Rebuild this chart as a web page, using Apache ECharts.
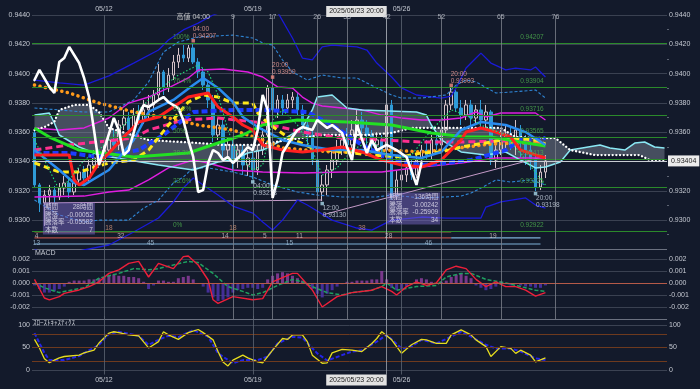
<!DOCTYPE html>
<html><head><meta charset="utf-8">
<script src="https://cdn.jsdelivr.net/npm/echarts/dist/echarts.min.js"></script>
<style>html,body{margin:0;padding:0;background:#131a2b;}#c{width:700px;height:389px;}</style>
</head><body><div id="c"></div>
<script>
// ---------- categories (4h bars, JST) ----------
const dayList = [
 ['05/08','mid'],['05/09','mid'],['05/10','sat'],
 ['05/12','mon'],['05/13','mid'],['05/14','mid'],['05/15','mid'],['05/16','mid'],['05/17','sat'],
 ['05/19','mon'],['05/20','mid'],['05/21','mid'],['05/22','mid'],['05/23','mid'],['05/24','sat'],
 ['05/26','mon'],['05/27','mid'],['05/28','mid'],['05/29','mid'],['05/30','mid'],['05/31','sat'],
 ['06/02','mon'],['06/03','mid'],['06/04','mid'],['06/05','mid'],['06/06','mid']
];
const hoursByType = {mon:['08:00','12:00','16:00','20:00'], mid:['00:00','04:00','08:00','12:00','16:00','20:00'], sat:['00:00','04:00']};
const weekLabels = ['05/12','05/19','05/26'];
const categories = [];
dayList.forEach(([d,t]) => hoursByType[t].forEach(h => categories.push('2025/' + d + ' ' + h)));
categories.length = 128;

// ---------- candles [open, close, low, high] ----------
const ohlc = [
[0.93595,0.93240,0.93219,0.93629],[0.93240,0.93117,0.93055,0.93253],[0.93117,0.93171,0.92960,0.93205],
[0.93171,0.93205,0.93103,0.93240],[0.93205,0.93158,0.93117,0.93233],[0.93158,0.93219,0.93137,0.93253],
[0.93219,0.93253,0.93171,0.93301],[0.93253,0.93192,0.93151,0.93287],[0.93192,0.93274,0.93171,0.93328],
[0.93274,0.93328,0.93233,0.93356],[0.93328,0.93287,0.93240,0.93369],[0.93287,0.93376,0.93260,0.93410],
[0.93376,0.93424,0.93342,0.93478],[0.93424,0.93397,0.93356,0.93465],[0.93397,0.93478,0.93369,0.93513],
[0.93478,0.93547,0.93444,0.93601],[0.93547,0.93513,0.93478,0.93615],[0.93513,0.93649,0.93478,0.93683],
[0.93649,0.93697,0.93615,0.93752],[0.93697,0.93615,0.93581,0.93738],[0.93615,0.93717,0.93581,0.93765],
[0.93717,0.93683,0.93649,0.93786],[0.93683,0.93752,0.93656,0.93820],[0.93752,0.93786,0.93697,0.93854],
[0.93786,0.93854,0.93738,0.93888],[0.93854,0.94011,0.93820,0.94065],[0.94011,0.93902,0.93854,0.94025],
[0.93902,0.93990,0.93874,0.94038],[0.93990,0.94079,0.93956,0.94127],[0.94079,0.94127,0.94038,0.94175],
[0.94127,0.94106,0.94079,0.94195],[0.94106,0.94175,0.94079,0.94195],[0.94175,0.94079,0.94065,0.94207],
[0.94079,0.94011,0.93970,0.94106],[0.94011,0.93922,0.93888,0.94038],[0.93922,0.93820,0.93765,0.93956],
[0.93820,0.93581,0.93533,0.93854],[0.93581,0.93649,0.93547,0.93697],[0.93649,0.93478,0.93424,0.93683],
[0.93478,0.93513,0.93410,0.93560],[0.93513,0.93410,0.93328,0.93547],[0.93410,0.93478,0.93356,0.93513],
[0.93478,0.93376,0.93308,0.93513],[0.93376,0.93424,0.93301,0.93478],[0.93424,0.93342,0.93278,0.93465],
[0.93342,0.93478,0.93308,0.93513],[0.93478,0.93581,0.93444,0.93629],[0.93581,0.93902,0.93560,0.93922],
[0.93902,0.93752,0.93717,0.93959],[0.93752,0.93820,0.93697,0.93854],[0.93820,0.93765,0.93717,0.93854],
[0.93765,0.93820,0.93738,0.93861],[0.93820,0.93840,0.93765,0.93874],[0.93840,0.93752,0.93717,0.93874],
[0.93752,0.93649,0.93615,0.93786],[0.93649,0.93581,0.93513,0.93697],[0.93581,0.93410,0.93376,0.93615],
[0.93410,0.93192,0.93171,0.93478],[0.93192,0.93240,0.93130,0.93308],[0.93240,0.93342,0.93171,0.93376],
[0.93342,0.93410,0.93287,0.93478],[0.93410,0.93478,0.93376,0.93547],[0.93478,0.93547,0.93444,0.93615],
[0.93547,0.93513,0.93478,0.93629],[0.93513,0.93615,0.93478,0.93683],[0.93615,0.93683,0.93560,0.93752],
[0.93683,0.93629,0.93581,0.93738],[0.93629,0.93581,0.93513,0.93683],[0.93581,0.93513,0.93478,0.93615],
[0.93513,0.93547,0.93465,0.93601],[0.93547,0.93478,0.93424,0.93581],[0.93478,0.93786,0.93444,0.93820],
[0.93786,0.93158,0.93137,0.93820],[0.93158,0.93274,0.93137,0.93342],[0.93274,0.93308,0.93205,0.93356],
[0.93308,0.93356,0.93260,0.93410],[0.93356,0.93308,0.93274,0.93410],[0.93308,0.93410,0.93287,0.93444],
[0.93410,0.93478,0.93376,0.93513],[0.93478,0.93444,0.93410,0.93547],[0.93444,0.93547,0.93410,0.93581],
[0.93547,0.93513,0.93478,0.93601],[0.93513,0.93615,0.93478,0.93670],[0.93615,0.93786,0.93581,0.93820],
[0.93786,0.93874,0.93752,0.93903],[0.93874,0.93765,0.93738,0.93888],[0.93765,0.93717,0.93649,0.93820],
[0.93717,0.93786,0.93683,0.93820],[0.93786,0.93697,0.93649,0.93820],[0.93697,0.93752,0.93649,0.93786],
[0.93752,0.93683,0.93635,0.93820],[0.93683,0.93738,0.93629,0.93786],[0.93738,0.93410,0.93376,0.93752],
[0.93410,0.93478,0.93356,0.93547],[0.93478,0.93547,0.93444,0.93615],[0.93547,0.93581,0.93492,0.93649],
[0.93581,0.93513,0.93478,0.93629],[0.93513,0.93615,0.93444,0.93683],[0.93615,0.93547,0.93424,0.93649],
[0.93547,0.93478,0.93376,0.93581],[0.93478,0.93410,0.93342,0.93513],[0.93410,0.93226,0.93198,0.93444],
[0.93226,0.93328,0.93205,0.93376],[0.93328,0.93404,0.93287,0.93444]
];
const lastPrice = 0.93404;

// ---------- main panel lines [barIndex, price] ----------
const bbUpper3 = [[0,0.93956],[5,0.93936],[10,0.93922],[15,0.93984],[20,0.94072],[25,0.94161],[27,0.94229],[30,0.94298],[33,0.94345],[36,0.9440],[40,0.94448],[45,0.94468],[49,0.94420],[52,0.94243],[54,0.94106],[56,0.94093],[58,0.94182],[60,0.94195],[65,0.94182],[67,0.94161],[69,0.94072],[72,0.93977],[74,0.93902],[77,0.93854],[82,0.93833],[84,0.93847],[85,0.93902],[87,0.94038],[89,0.94106],[90,0.94140],[92,0.94072],[95,0.94025],[97,0.94038],[100,0.94025],[101,0.94045],[103,0.93977]];
const bbLower3 = [[0,0.92796],[5,0.92762],[10,0.92796],[15,0.92830],[20,0.92919],[25,0.93014],[28,0.93124],[30,0.93219],[32,0.93287],[34,0.93240],[37,0.93171],[40,0.93096],[44,0.93048],[46,0.92987],[48,0.92932],[50,0.93000],[53,0.93137],[55,0.93103],[60,0.93000],[65,0.92946],[68,0.92932],[72,0.93000],[78,0.93021],[83,0.93014],[90,0.93014],[91,0.93089],[94,0.93124],[99,0.93151],[101,0.93103],[103,0.93082]];
const bbUpper2 = [[0,0.93765],[5,0.93752],[10,0.93738],[15,0.93738],[20,0.93820],[23,0.93943],[26,0.94147],[29,0.94216],[33,0.94250],[40,0.94263],[44,0.94243],[46,0.94209],[48,0.94195],[50,0.94093],[52,0.94011],[55,0.93956],[58,0.93990],[62,0.93970],[65,0.93970],[69,0.93902],[72,0.93854],[74,0.93833],[78,0.93833],[83,0.93854],[85,0.93922],[87,0.93956],[89,0.93943],[93,0.93868],[96,0.93874],[101,0.93888],[103,0.93833]];
const bbLower2 = [[0,0.93137],[5,0.93035],[10,0.92987],[13,0.93000],[19,0.93000],[22,0.93082],[25,0.93137],[28,0.93253],[30,0.93294],[32,0.93356],[35,0.93356],[40,0.93328],[44,0.93294],[48,0.93240],[53,0.93192],[57,0.93171],[62,0.93158],[69,0.93158],[72,0.93171],[78,0.93151],[83,0.93158],[86,0.93164],[88,0.93185],[90,0.93219],[93,0.93274],[96,0.93260],[100,0.93274],[103,0.93240]];
const bandUpper1 = [[0,0.93629],[5,0.93615],[10,0.93629],[15,0.93697],[19,0.93799],[23,0.93840],[27,0.93902],[31,0.93970],[33,0.94025],[38,0.94031],[43,0.94011],[46,0.93977],[49,0.93909],[52,0.93902],[54,0.93840],[56,0.93799],[58,0.93779],[62,0.93765],[66,0.93752],[70,0.93717],[74,0.93697],[78,0.93683],[82,0.93683],[86,0.93697],[89,0.93738],[91,0.93704],[94,0.93731],[101,0.93731],[103,0.93683]];
const bandLower1 = [[0,0.93158],[10,0.93164],[15,0.93192],[19,0.93205],[23,0.93274],[27,0.93356],[32,0.93410],[35,0.93390],[40,0.93342],[46,0.93328],[54,0.93321],[62,0.93328],[70,0.93328],[78,0.93362],[86,0.93390],[93,0.93424],[103,0.93424]];
const maPink = [[0,0.93478],[7,0.93513],[20,0.93560],[23,0.93615],[30,0.93683],[37,0.93697],[46,0.93663],[54,0.93601],[62,0.93560],[70,0.93547],[78,0.93533],[86,0.93533],[95,0.93540],[103,0.93526]];
const maYellow = [[0,0.93390],[5,0.93328],[9,0.93328],[15,0.93390],[20,0.93410],[23,0.93478],[27,0.93649],[31,0.93806],[34,0.93854],[37,0.93840],[40,0.93799],[44,0.93799],[45,0.93731],[47,0.93663],[51,0.93567],[56,0.93492],[62,0.93465],[68,0.93444],[74,0.93431],[78,0.93458],[82,0.93465],[86,0.93499],[92,0.93533],[96,0.93560],[101,0.93547],[103,0.93519]];
const maBlue = [[0,0.93458],[7,0.93458],[13,0.93431],[21,0.93478],[26,0.93581],[32,0.93738],[40,0.93752],[46,0.93752],[55,0.93738],[60,0.93649],[66,0.93513],[72,0.93410],[78,0.93376],[83,0.93390],[88,0.93410],[95,0.93478],[98,0.93547],[103,0.93560]];
const maOrange = [[0,0.93922],[7,0.93868],[13,0.93799],[20,0.93738],[27,0.93697],[33,0.93649],[40,0.93615],[46,0.93547],[50,0.93492],[60,0.93465],[67,0.93465],[72,0.93478],[78,0.93465],[82,0.93478],[92,0.93519],[103,0.93533]];
const maGreen = [[0,0.93629],[3,0.93567],[9,0.93478],[20,0.93431],[31,0.93458],[37,0.93526],[42,0.93581],[46,0.93649],[53,0.93683],[63,0.93670],[72,0.93649],[80,0.93595],[87,0.93567],[92,0.93567],[98,0.93533],[103,0.93506]];
const maRed = [[0,0.93444],[7,0.93444],[8,0.93274],[9,0.93240],[11,0.93287],[13,0.93390],[15,0.93458],[18,0.93567],[21,0.93670],[25,0.93704],[28,0.93772],[31,0.93840],[33,0.93854],[35,0.93868],[37,0.93772],[40,0.93704],[42,0.93649],[44,0.93615],[46,0.93513],[50,0.93478],[54,0.93465],[58,0.93478],[62,0.93499],[66,0.93465],[70,0.93410],[74,0.93376],[78,0.93362],[82,0.93410],[86,0.93547],[87,0.93601],[90,0.93629],[93,0.93601],[96,0.93567],[98,0.93478],[103,0.93424]];
const maSky = [[0,0.93478],[5,0.93342],[8,0.93253],[10,0.93240],[15,0.93342],[20,0.93547],[23,0.93738],[28,0.93820],[32,0.93922],[34,0.93970],[37,0.93902],[40,0.93806],[42,0.93704],[45,0.93635],[50,0.93547],[54,0.93513],[60,0.93478],[66,0.93478],[72,0.93444],[78,0.93424],[82,0.93465],[86,0.93615],[90,0.93670],[95,0.93649],[99,0.93601],[103,0.93513]];
const dotGreen = [[0,0.93547],[3,0.93342],[5,0.93205],[7,0.93274],[10,0.93410],[13,0.93478],[17,0.93615],[21,0.93752],[25,0.93888],[29,0.93990],[33,0.94059],[35,0.94011],[37,0.93854],[39,0.93615],[41,0.93444],[44,0.93342],[46,0.93376],[48,0.93683],[50,0.93752],[53,0.93649],[56,0.93478],[58,0.93308],[61,0.93356],[64,0.93478],[68,0.93547],[72,0.93410],[76,0.93444],[80,0.93615],[84,0.93752],[87,0.93717],[90,0.93649],[95,0.93581],[99,0.93410],[103,0.93240]];
const chikou = [[0,0.93956],[1,0.94025],[3,0.93909],[4,0.93868],[5,0.94079],[6,0.94106],[7,0.94182],[8,0.94127],[9,0.94072],[10,0.93970],[11,0.93840],[12,0.93615],[13,0.93376],[14,0.93478],[16,0.93697],[17,0.93615],[18,0.93444],[19,0.93478],[21,0.93717],[22,0.93786],[23,0.93772],[25,0.93820],[26,0.93840],[27,0.93806],[29,0.93765],[30,0.93683],[31,0.93547],[32,0.93431],[33,0.93192],[34,0.93205],[35,0.93390],[36,0.93478],[37,0.93458],[38,0.93410],[39,0.93431],[40,0.93390],[42,0.93458],[43,0.93499],[44,0.93478],[45,0.93615],[46,0.93854],[47,0.93752],[48,0.93151],[49,0.93274],[50,0.93458],[52,0.93567],[53,0.93615],[54,0.93635],[56,0.93615],[57,0.93683],[59,0.93629],[60,0.93649],[62,0.93595],[63,0.93499],[64,0.93410],[65,0.93649],[67,0.93458],[68,0.93547],[69,0.93478],[71,0.93513],[73,0.93478],[75,0.93431],[77,0.93240],[78,0.93390]];
const spanA = [[0,0.93717],[3,0.93731],[4,0.93663],[5,0.93581],[9,0.93499],[13,0.93444],[19,0.93410],[25,0.93376],[32,0.93342],[37,0.93397],[40,0.93410],[43,0.93458],[46,0.93478],[50,0.93547],[54,0.93629],[56,0.93752],[57,0.93840],[60,0.93854],[63,0.93765],[66,0.93752],[77,0.93738],[79,0.93717],[80,0.93649],[82,0.93547],[86,0.93465],[91,0.93444],[95,0.93465],[98,0.93410],[101,0.93356],[103,0.93362],[106,0.93397],[108,0.93478],[114,0.93513],[116,0.93492],[119,0.93478],[121,0.93526],[123,0.93533],[125,0.93499],[127,0.93492]];
const spanB = [[0,0.93615],[2,0.93635],[4,0.93670],[5,0.93752],[8,0.93786],[11,0.93786],[13,0.93738],[15,0.93629],[23,0.93547],[33,0.93526],[38,0.93513],[45,0.93513],[51,0.93547],[58,0.93581],[67,0.93581],[72,0.93595],[76,0.93629],[80,0.93629],[94,0.93629],[97,0.93567],[102,0.93560],[105,0.93560],[108,0.93478],[113,0.93444],[122,0.93444],[124,0.93410],[127,0.93410]];
const trend1 = [[2,0.93117],[58,0.93137]];
const trend2 = [[58,0.93035],[103,0.93437]];

// Fibonacci levels [price, percent]
const fibLevels = [[0.94207,'100%'],[0.93904,'76.4%'],[0.93716,'61.8%'],[0.93565,'50%'],[0.93413,'38.2%'],[0.93225,'23.6%'],[0.92922,'0%']];
// swing-count bars
const rowLevels = [0.92919, 0.92878, 0.92837];
const row1Labels = [[15,'18'],[40,'18'],[66,'38']];
const row2Labels = [[0,'4'],[17,'32'],[38,'14'],[46,'5'],[53,'11'],[71,'28'],[92,'19']];
const row3Labels = [[0,'13'],[23,'45'],[51,'15'],[79,'46']];
// time-count lines [barIndex, label]
const countLines = [[40,'9'],[48,'17'],[57,'26'],[63,'33'],[71,'42'],[82,'52'],[94,'65'],[105,'76']];
const crossIdx = 71;
// swing highs / lows [barIndex, price, time]
const swingHighs = [[32,0.94207,'04:00'],[48,0.93959,'20:00'],[84,0.93903,'20:00']];
const swingLows = [[44,0.93278,'04:00'],[58,0.93130,'12:00'],[101,0.93198,'20:00']];
// measurement boxes
const box1 = {at:[2,0.93117], rows:[['期間','28時間'],['騰落','-0.00052'],['騰落率','-0.05582'],['本数','7']]};
const box2 = {at:[71,0.93185], rows:[['期間','136時間'],['騰落','-0.00242'],['騰落率','-0.25909'],['本数','34']]};

// ---------- MACD ----------
const macdLine = [[0,0.0003],[2,-0.00125],[3,-0.0014],[5,-0.00114],[6,-0.00086],[9,-0.00058],[11,-0.0003],[13,0.0001],[15,0.0008],[17,0.0011],[19,0.00164],[21,0.0018],[23,0.0005],[25,0.00164],[28,0.0012],[30,0.0022],[31,0.00225],[33,0.0015],[35,0.00025],[36,-0.0014],[37,-0.0017],[40,-0.00114],[44,-0.0014],[46,-0.0013],[48,0.0001],[52,0.0008],[53,0.0008],[56,-0.00058],[58,-0.002],[61,-0.00114],[64,-0.0008],[68,-0.0006],[70,-0.0003],[72,-0.0007],[73,-0.001],[75,-0.0003],[77,0.0001],[79,-0.0002],[81,0.0],[83,0.0011],[85,0.0014],[87,0.0012],[89,0.0003],[91,-0.0003],[93,0.0001],[95,-0.0003],[97,-0.0003],[99,-0.0006],[101,-0.0011],[103,-0.0008]];
const signalLine = [[0,0.0],[2,-0.0004],[5,-0.0008],[6,-0.0007],[10,-0.0004],[13,0.0004],[17,0.0008],[20,0.0012],[23,0.0011],[25,0.0012],[28,0.0015],[31,0.0018],[33,0.0017],[36,0.0008],[39,-0.0003],[42,-0.0007],[44,-0.001],[46,-0.0008],[49,-0.0002],[52,0.0003],[54,0.0001],[56,-0.0003],[59,-0.0008],[62,-0.001],[64,-0.0008],[68,-0.0006],[70,-0.0003],[71,0.0],[73,-0.0006],[77,-0.0003],[81,-0.0002],[83,0.0005],[86,0.0008],[88,0.0008],[91,0.0003],[95,0.0],[98,-0.0003],[101,-0.0006],[103,-0.0007]];
const macdHist = [-0.0002,-0.0005,-0.0008,-0.0008,-0.0007,-0.0005,-0.0003,0.0001,0.0002,0.0002,
0.0002,0.0003,0.0003,0.0004,0.0005,0.0006,0.0007,0.0006,0.0006,0.0005,
0.0005,0.0004,0.0001,-0.0005,-0.0002,0.0002,0.0002,0.0001,0.0001,0.0004,
0.0005,0.0006,0.0003,0.0000,-0.0003,-0.0008,-0.0012,-0.0015,-0.0014,-0.0012,
-0.0008,-0.0006,-0.0005,-0.0004,-0.0004,-0.0005,-0.0004,0.0003,0.0006,0.0008,
0.0009,0.0008,0.0006,0.0004,0.0002,-0.0002,-0.0005,-0.0009,-0.0012,-0.0009,
-0.0006,-0.0003,-0.0001,0.0001,0.0001,0.0002,0.0002,0.0002,0.0003,0.0003,
0.0010,0.0003,-0.0004,-0.0006,-0.0005,-0.0003,-0.0001,0.0003,0.0004,0.0003,
0.0001,0.0000,0.0001,0.0002,0.0005,0.0007,0.0008,0.0006,0.0004,-0.0002,
-0.0004,-0.0006,-0.0005,-0.0003,0.0001,-0.0001,-0.0002,-0.0001,-0.0002,-0.0003,
-0.0003,-0.0004,-0.0004,-0.0002];

// ---------- Slow stochastics ----------
const stochK = [[0,68],[1,49],[2,25],[3,16],[4,22],[5,27],[6,30],[9,33],[10,38],[12,44],[13,60],[15,82],[16,85],[17,83],[19,78],[21,76],[23,49],[25,63],[26,85],[27,78],[29,68],[31,83],[33,90],[34,83],[36,67],[37,41],[38,18],[39,9],[40,22],[42,33],[43,27],[45,18],[46,16],[48,44],[50,70],[51,68],[52,78],[54,78],[55,63],[56,33],[58,15],[59,16],[60,38],[62,46],[64,44],[66,41],[68,59],[69,70],[70,85],[72,67],[74,37],[76,56],[78,68],[79,67],[81,59],[83,59],[84,78],[86,89],[88,78],[89,67],[91,52],[92,30],[94,52],[96,48],[97,37],[98,44],[100,33],[101,18],[103,27]];
const stochD = [[0,82],[2,38],[3,22],[6,22],[9,31],[13,56],[15,80],[17,85],[21,76],[23,56],[25,67],[27,76],[29,73],[32,89],[35,74],[37,37],[40,15],[42,22],[45,22],[47,30],[49,59],[52,74],[54,72],[57,37],[59,21],[62,33],[64,41],[66,44],[69,63],[71,78],[74,48],[76,52],[78,67],[81,59],[84,74],[86,85],[88,74],[91,56],[93,48],[96,48],[98,41],[101,26],[103,22]];
const stochLevels = [[100,'#3b4252'],[80,'#6e3a1e'],[50,'#6e3a1e'],[20,'#6e3a1e'],[0,'#3b4252']];

// ---------- chart ----------
const FONT = "'Liberation Sans','Noto Sans CJK JP',sans-serif";
const TXT = '#c5c9d2';
const GRID_LINE = '#3a4151';
const SEP = '#6b7180';
const weekIdx = weekLabels.map(d => categories.indexOf('2025/' + d + ' 08:00'));
const isWeekLabel = (i, v) => weekLabels.includes(v.substr(5,5)) && v.endsWith('08:00');

function line(data, color, width, type, z, extra) {
  return Object.assign({type:'line', data, xAxisIndex:0, yAxisIndex:0, symbol:'none', silent:true, animation:false, z,
    lineStyle:{color, width, type:type || 'solid', cap: (extra && extra.cap) || 'butt'}}, extra && extra.series || {});
}
function labels(items, grid, labelOpt, z) {
  return {type:'scatter', xAxisIndex:grid, yAxisIndex:grid*2, symbolSize:1, silent:true, animation:false, clip:false, z:z || 20,
    itemStyle:{color:'rgba(0,0,0,0)'},
    data: items.map(it => ({value:[it[0], it[1]], label:{formatter:String(it[2])}})),
    label:Object.assign({show:true, fontFamily:FONT, fontSize:6.5}, labelOpt)};
}
function vLines() {
  const arr = countLines.map(c => ({xAxis:categories[c[0]], lineStyle:{color:'#7d828d', width:0.8, type:'solid'}}));
  weekIdx.forEach(i => arr.push({xAxis:categories[i], lineStyle:{color:'#5d6472', width:0.8, type:'solid'}}));
  return arr;
}
function boxText(rows) {
  return rows.map(r => '{a|' + r[0] + '}{b|' + r[1] + '}').join('\n');
}
const crossLabelStyle = {show:true, formatter:categories[crossIdx], backgroundColor:'#e2e2e2', color:'#222', fontSize:7, fontFamily:FONT, padding:[2,3], align:'right'};

const mainSplitColors = [SEP].concat(Array(8).fill(GRID_LINE));
const macdSplitColors = [SEP, GRID_LINE, GRID_LINE, GRID_LINE, GRID_LINE, GRID_LINE, 'rgba(0,0,0,0)'];

const axisLabelBase = {color:TXT, fontSize:7, fontFamily:FONT, margin:2};
const macdFmt = v => {const r = Math.round(v*1000); return Math.abs(r) > 2 ? '' : (r === 0 ? '0.000' : (r/1000).toFixed(3));};
const stochFmt = v => [0,50,100].includes(Math.round(v)) ? String(Math.round(v)) : '';

const chikouSeries = line(chikou, '#ffffff', 2.6, 'solid', 5, {cap:'round'});
chikouSeries.markLine = {silent:true, symbol:['none','none'], animation:false, precision:6,
  data:[{yAxis:lastPrice, lineStyle:{color:'#c8ccd2', width:1, type:'solid'},
    label:{show:true, position:'end', distance:1, formatter:lastPrice.toFixed(5), backgroundColor:'#ececec', color:'#222', fontSize:7, fontFamily:FONT, padding:[2,3]}}]};

const option = {
  backgroundColor:'#131a2b',
  animation:false,
  textStyle:{fontFamily:FONT},
  title:[
    {text:'MACD', left:35, top:250, padding:0, textStyle:{color:TXT, fontSize:7, fontWeight:'normal', fontFamily:FONT}},
    {text:'ｽﾛｰｽﾄｷｬｽﾃｨｸｽ', left:33, top:320, padding:0, textStyle:{color:TXT, fontSize:7, fontWeight:'normal', fontFamily:FONT}}
  ],
  grid:[
    {left:32, right:33, top:15, height:234.4},
    {left:32, right:33, top:247, height:72},
    {left:32, right:33, top:316, height:58.5}
  ],
  xAxis:[
    {type:'category', gridIndex:0, data:categories, position:'top', boundaryGap:true,
      axisLine:{show:false}, axisTick:{show:false}, splitLine:{show:false},
      axisLabel:Object.assign({interval:isWeekLabel, formatter:v => v.substr(5,5)}, axisLabelBase)},
    {type:'category', gridIndex:1, data:categories, boundaryGap:true, axisLine:{show:false}, axisTick:{show:false}, axisLabel:{show:false}, splitLine:{show:false}},
    {type:'category', gridIndex:2, data:categories, position:'bottom', boundaryGap:true,
      axisLine:{show:false}, axisTick:{show:false}, splitLine:{show:false},
      axisLabel:Object.assign({interval:isWeekLabel, formatter:v => v.substr(5,5)}, axisLabelBase)}
  ],
  yAxis:[
    {type:'value', gridIndex:0, position:'left', min:0.928, max:0.944, interval:0.002,
      axisLine:{show:false}, axisTick:{show:false},
      axisLabel:Object.assign({formatter:v => v.toFixed(4), showMinLabel:false}, axisLabelBase),
      splitLine:{show:true, lineStyle:{color:mainSplitColors, width:1}}},
    {type:'value', gridIndex:0, position:'right', min:0.928, max:0.944, interval:0.002,
      axisLine:{show:false}, axisTick:{show:false}, minorTick:{show:true, splitNumber:2, length:2, lineStyle:{color:'#5d6472'}},
      axisLabel:Object.assign({formatter:v => v.toFixed(4), showMinLabel:false}, axisLabelBase),
      splitLine:{show:false}},
    {type:'value', gridIndex:1, position:'left', min:-0.003, max:0.003, interval:0.001,
      axisLine:{show:false}, axisTick:{show:false},
      axisLabel:Object.assign({formatter:macdFmt}, axisLabelBase),
      splitLine:{show:true, lineStyle:{color:macdSplitColors, width:1}}},
    {type:'value', gridIndex:1, position:'right', min:-0.003, max:0.003, interval:0.001,
      axisLine:{show:false}, axisTick:{show:false},
      axisLabel:Object.assign({formatter:macdFmt}, axisLabelBase),
      splitLine:{show:false}},
    {type:'value', gridIndex:2, position:'left', min:-10, max:120, interval:10,
      axisLine:{show:false}, axisTick:{show:false}, splitLine:{show:false},
      axisLabel:Object.assign({formatter:stochFmt}, axisLabelBase)},
    {type:'value', gridIndex:2, position:'right', min:-10, max:120, interval:10,
      axisLine:{show:false}, axisTick:{show:false}, splitLine:{show:false},
      axisLabel:Object.assign({formatter:stochFmt}, axisLabelBase)}
  ],
  series:[
    // Ichimoku cloud fill
    {type:'custom', xAxisIndex:0, yAxisIndex:0, z:1, silent:true, clip:true, animation:false,
      data:[[0, spanA[0][1]]],
      renderItem:(params, api) => {
        const pts = spanA.map(p => api.coord(p)).concat(spanB.slice().reverse().map(p => api.coord(p)));
        return {type:'polygon', shape:{points:pts}, style:{fill:'rgba(140,150,166,0.42)'}};
      }},
    // candles
    {type:'candlestick', xAxisIndex:0, yAxisIndex:0, data:ohlc, barWidth:3, z:2, silent:true, animation:false,
      itemStyle:{color:'rgba(0,0,0,0)', borderColor:'#d4c2c8', color0:'#2f9bd8', borderColor0:'#2f9bd8', borderWidth:1},
      markLine:{silent:true, symbol:['none','none'], animation:false, precision:6, label:{show:false},
        data:[].concat(
          fibLevels.map(f => ({yAxis:f[0], lineStyle:{color:'#2b8a2b', width:1, type:'solid'}})),
          vLines(),
          [{xAxis:categories[crossIdx], lineStyle:{color:'#a0a5ae', width:0.8, type:'solid'},
             label:Object.assign({position:'end', distance:-2}, crossLabelStyle)}]
        )}},
    // trend lines
    line(trend1, '#c49ac8', 1, 'solid', 3),
    line(trend2, '#c49ac8', 1, 'solid', 3),
    // swing count rows
    line([[0,rowLevels[0]],[84,rowLevels[0]]], '#9b6a3c', 1.2, 'solid', 3),
    line([[0,rowLevels[1]],[84,rowLevels[1]]], '#b4504a', 1.2, 'solid', 3),
    line([[84,rowLevels[1]],[102,rowLevels[1]]], '#7fb0d8', 1.2, 'solid', 3),
    line([[0,rowLevels[2]],[102,rowLevels[2]]], '#7fb0d8', 1.2, 'solid', 3),
    // bands
    line(bbUpper3, '#1a1ad8', 1.3, 'solid', 3),
    line(bbLower3, '#1a1ad8', 1.3, 'solid', 3),
    line(bbUpper2, '#2f86d6', 1.1, [3,2], 3),
    line(bbLower2, '#2f86d6', 1.1, [3,2], 3),
    line(bandUpper1, '#e01ee0', 1.4, 'solid', 3),
    line(bandLower1, '#e01ee0', 1.4, 'solid', 3),
    // ichimoku spans
    line(spanA, '#8ae8f4', 1.5, 'solid', 4),
    line(spanB, '#ffffff', 2.3, [0.1,3.6], 4, {cap:'round'}),
    // moving averages
    line(maPink, '#ff2f8f', 3, [7,4], 4),
    line(maOrange, '#ff9a1a', 3.5, [0.1,5.5], 4, {cap:'round'}),
    line(maBlue, '#1c3cff', 4, [6,3], 4),
    line(maYellow, '#ffe81a', 3, [6,4], 4),
    line(maGreen, '#22e022', 3, 'solid', 4),
    line(maSky, '#2a8cf0', 2.5, 'solid', 4),
    line(maRed, '#ff2020', 3, 'solid', 4),
    line(dotGreen, '#22dd77', 1.1, [1.5,2], 4),
    chikouSeries,
    // swing markers
    {type:'scatter', xAxisIndex:0, yAxisIndex:0, symbol:'rect', symbolSize:3.5, symbolOffset:[0,-2.5], silent:true, animation:false, z:12,
      itemStyle:{color:'#f28b82'}, data:swingHighs.map(h => [h[0], h[1]])},
    {type:'scatter', xAxisIndex:0, yAxisIndex:0, symbol:'rect', symbolSize:3.5, symbolOffset:[0,2.5], silent:true, animation:false, z:12,
      itemStyle:{color:'#a8d8ea'}, data:swingLows.map(h => [h[0], h[1]])},
    labels(swingHighs.map(h => [h[0], h[1], h[2] + '\n' + h[1].toFixed(5)]), 0, {position:[0,-17], color:'#f4a09a', lineHeight:7}),
    labels(swingLows.map(h => [h[0], h[1], h[2] + '\n' + h[1].toFixed(5)]), 0, {position:[1,4], color:'#d0dae6', lineHeight:7}),
    labels([[32, 0.9440, '高値 04:00']], 0, {position:'inside', offset:[0,2], color:'#e6e6e6', fontSize:7}),
    labels(countLines.map(c => [c[0], 0.9440, c[1]]), 0, {position:'inside', offset:[0,2], color:TXT, fontSize:7}),
    labels(fibLevels.map(f => [28, f[0], f[1]]), 0, {position:[0,-9], color:'#4fb34f'}),
    labels(fibLevels.map(f => [98, f[0], f[0].toFixed(5)]), 0, {position:[0,-9], color:'#4fb34f'}),
    labels(row1Labels.map(r => [r[0], rowLevels[0], r[1]]), 0, {position:'inside', offset:[0,-4], color:'#d89878'}),
    labels(row2Labels.map(r => [r[0], rowLevels[1], r[1]]), 0, {position:'inside', offset:[2,-2], color:'#d8c8c8'}),
    labels(row3Labels.map(r => [r[0], rowLevels[2], r[1]]), 0, {position:'inside', offset:[2,-1], color:'#a8c4dc'}),
    labels([[box1.at[0], box1.at[1], boxText(box1.rows)]], 0, {position:[-1,0], backgroundColor:'rgba(122,104,200,0.62)', padding:[1,2], color:'#e8e6f4',
      rich:{a:{width:18, align:'left', fontSize:6.5, lineHeight:7.5, color:'#e8e6f4', fontFamily:FONT}, b:{width:30, align:'right', fontSize:6.5, lineHeight:7.5, color:'#e8e6f4', fontFamily:FONT}}}, 25),
    labels([[box2.at[0], box2.at[1], boxText(box2.rows)]], 0, {position:[1,0], backgroundColor:'rgba(122,104,200,0.62)', padding:[1,2], color:'#e8e6f4',
      rich:{a:{width:18, align:'left', fontSize:6.5, lineHeight:7.5, color:'#e8e6f4', fontFamily:FONT}, b:{width:31, align:'right', fontSize:6.5, lineHeight:7.5, color:'#e8e6f4', fontFamily:FONT}}}, 25),

    // MACD panel
    {type:'bar', xAxisIndex:1, yAxisIndex:2, data:macdHist, barWidth:3, silent:true, animation:false, z:2,
      itemStyle:{color:p => p.value >= 0 ? 'rgba(140,62,156,0.85)' : 'rgba(78,50,170,0.85)'}},
    {type:'line', xAxisIndex:1, yAxisIndex:2, data:signalLine, symbol:'none', silent:true, animation:false, z:3,
      lineStyle:{color:'#1fa060', width:1.5, type:[4,2]}},
    {type:'line', xAxisIndex:1, yAxisIndex:2, data:macdLine, symbol:'none', silent:true, animation:false, z:4,
      lineStyle:{color:'#ee1f3a', width:1.4},
      markLine:{silent:true, symbol:['none','none'], animation:false, precision:6, label:{show:false},
        data:[].concat([{yAxis:0, lineStyle:{color:'#b55a48', width:1, type:'solid'}}], vLines(),
          [{xAxis:categories[crossIdx], lineStyle:{color:'#a0a5ae', width:0.8, type:'solid'}}])}},

    // Stochastics panel
    {type:'line', xAxisIndex:2, yAxisIndex:4, data:stochD, symbol:'none', silent:true, animation:false, z:3,
      lineStyle:{color:'#2424e8', width:2, type:[4,2]},
      markLine:{silent:true, symbol:['none','none'], animation:false, precision:6, label:{show:false},
        data:[].concat(stochLevels.map(l => ({yAxis:l[0], lineStyle:{color:l[1], width:1, type:'solid'}})),
          weekIdx.map(i => ({xAxis:categories[i], lineStyle:{color:'#5d6472', width:0.8, type:'solid'}})),
          [{xAxis:categories[crossIdx], lineStyle:{color:'#a0a5ae', width:0.8, type:'solid'},
            label:Object.assign({position:'start', distance:0}, crossLabelStyle)}])}},
    {type:'line', xAxisIndex:2, yAxisIndex:4, data:stochK, symbol:'none', silent:true, animation:false, z:4,
      lineStyle:{color:'#e6dc1e', width:1.3}}
  ]
};
const chart = echarts.init(document.getElementById('c'), null, {renderer:'canvas'});
chart.setOption(option);
</script></body></html>
